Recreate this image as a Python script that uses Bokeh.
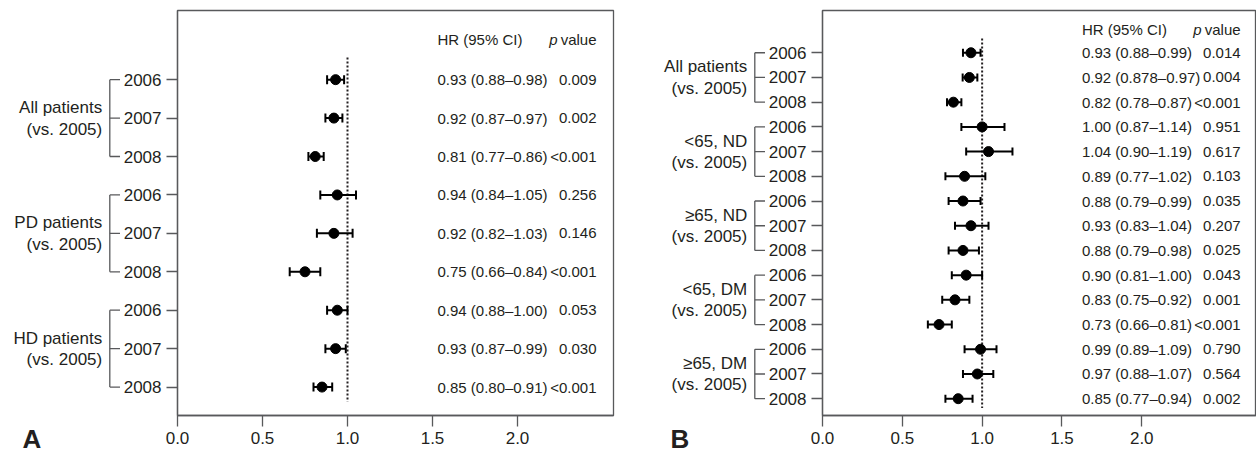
import numpy as np
from bokeh.plotting import figure
from bokeh.layouts import row
from bokeh.models import Range1d, FixedTicker, PrintfTickFormatter, Label
from bokeh.core.properties import value
from bokeh.embed import file_html
from bokeh.resources import INLINE

# ---------------- data ----------------
years = ["2006", "2007", "2008"]
comparison = "(vs. 2005)"
x_ticks = [0.0, 0.5, 1.0, 1.5, 2.0]
ref_hr = 1.0

a_groups = ["All patients", "PD patients", "HD patients"]
a_hr = [0.93, 0.92, 0.81, 0.94, 0.92, 0.75, 0.94, 0.93, 0.85]
a_lo = [0.88, 0.87, 0.77, 0.84, 0.82, 0.66, 0.88, 0.87, 0.80]
a_hi = [0.98, 0.97, 0.86, 1.05, 1.03, 0.84, 1.00, 0.99, 0.91]
a_ci = ["0.93 (0.88\u20130.98)", "0.92 (0.87\u20130.97)", "0.81 (0.77\u20130.86)",
        "0.94 (0.84\u20131.05)", "0.92 (0.82\u20131.03)", "0.75 (0.66\u20130.84)",
        "0.94 (0.88\u20131.00)", "0.93 (0.87\u20130.99)", "0.85 (0.80\u20130.91)"]
a_p = ["0.009", "0.002", "<0.001", "0.256", "0.146", "<0.001", "0.053", "0.030", "<0.001"]

b_groups = ["All patients", "<65, ND", "\u226565, ND", "<65, DM", "\u226565, DM"]
b_hr = [0.93, 0.92, 0.82, 1.00, 1.04, 0.89, 0.88, 0.93, 0.88, 0.90, 0.83, 0.73, 0.99, 0.97, 0.85]
b_lo = [0.88, 0.878, 0.78, 0.87, 0.90, 0.77, 0.79, 0.83, 0.79, 0.81, 0.75, 0.66, 0.89, 0.88, 0.77]
b_hi = [0.99, 0.97, 0.87, 1.14, 1.19, 1.02, 0.99, 1.04, 0.98, 1.00, 0.92, 0.81, 1.09, 1.07, 0.94]
b_ci = ["0.93 (0.88\u20130.99)", "0.92 (0.878\u20130.97)", "0.82 (0.78\u20130.87)",
        "1.00 (0.87\u20131.14)", "1.04 (0.90\u20131.19)", "0.89 (0.77\u20131.02)",
        "0.88 (0.79\u20130.99)", "0.93 (0.83\u20131.04)", "0.88 (0.79\u20130.98)",
        "0.90 (0.81\u20131.00)", "0.83 (0.75\u20130.92)", "0.73 (0.66\u20130.81)",
        "0.99 (0.89\u20131.09)", "0.97 (0.88\u20131.07)", "0.85 (0.77\u20130.94)"]
b_p = ["0.014", "0.004", "<0.001", "0.951", "0.617", "0.103", "0.035", "0.207", "0.025",
       "0.043", "0.001", "<0.001", "0.790", "0.564", "0.002"]

# ---------------- style ----------------
FONT = "Liberation Sans"
FS_LAB = "17px"   # axis / group labels
FS_TAB = "15px"   # HR (95% CI) and p value columns
TXT = "#231f20"
LINE = "#58595b"
H = 456
TOP, BOTTOM = 10, 41


def panel(groups, hr, lo, hi, ci, pv, letter, lab_w, lab_right, bracket_x, letter_x,
          main_w, mbl, mbr, px_per_unit, y_top, y_bottom, header_row, ci_x, p_x,
          cap, dot):
    n = len(hr)
    rows = list(range(n))
    frame_w = main_w - mbl - mbr
    yr = Range1d(y_bottom, y_top)
    p = figure(width=main_w, height=H, x_range=Range1d(0, frame_w / px_per_unit),
               y_range=yr, output_backend="svg",
               toolbar_location=None, min_border_left=mbl, min_border_right=mbr,
               min_border_top=TOP, min_border_bottom=BOTTOM)
    p.grid.visible = False
    p.outline_line_color = LINE
    p.outline_line_width = 1.3
    for ax in (p.xaxis[0], p.yaxis[0]):
        ax.axis_line_color = LINE
        ax.axis_line_width = 1.3
        ax.major_tick_line_color = LINE
        ax.major_tick_line_width = 1.3
        ax.major_tick_in = 0
        ax.major_tick_out = 11
        ax.minor_tick_line_color = None
        ax.major_label_text_font = FONT
        ax.major_label_text_font_size = FS_LAB
        ax.major_label_text_color = TXT
    p.xaxis[0].ticker = FixedTicker(ticks=x_ticks)
    p.xaxis[0].formatter = PrintfTickFormatter(format="%.1f")
    p.xaxis[0].major_label_standoff = 5
    p.yaxis[0].ticker = FixedTicker(ticks=rows)
    year_labels = years * len(groups)
    p.yaxis[0].major_label_overrides = {i: year_labels[i] for i in rows}
    p.yaxis[0].major_label_standoff = 5

    p.segment(x0=[ref_hr], y0=[-0.58], x1=[ref_hr], y1=[n - 1 + 0.38],
              line_dash="2 2", line_width=2, line_color=TXT)
    p.segment(x0=lo, y0=rows, x1=hi, y1=rows, line_width=2, line_color="black")
    p.scatter(x=lo + hi, y=rows + rows, marker="dash", angle=np.pi / 2, size=cap,
              line_width=2, line_color="black")
    p.scatter(x=hr, y=rows, size=dot, fill_color="black", line_color="black")

    tk = dict(text_font=value(FONT), text_font_size=FS_TAB, text_color=TXT,
              text_baseline="middle")
    p.text(x=[ci_x] * n, y=rows, text=ci, text_align="left", **tk)
    p.text(x=[p_x] * n, y=rows, text=pv, text_align="right", **tk)
    p.text(x=[ci_x], y=[header_row], text=["HR (95% CI)"], text_align="left", **tk)
    p.text(x=[p_x], y=[header_row], text=["value"], text_align="right", **tk)
    p.text(x=[p_x], y=[header_row], text=["p"], text_align="right", x_offset=-39,
           text_font_style="italic", **tk)

    # label figure (group names + brackets); its frame is aligned with the main frame
    lf = figure(width=lab_w, height=H, x_range=Range1d(0, lab_w), y_range=yr,
                x_axis_location=None, y_axis_location=None, output_backend="svg",
                toolbar_location=None, min_border_left=0, min_border_right=0,
                min_border_top=TOP, min_border_bottom=BOTTOM)
    lf.grid.visible = False
    lf.outline_line_color = None
    lk = dict(text_font=value(FONT), text_font_size=FS_LAB, text_color=TXT,
              text_baseline="middle", text_align="right")
    for g, name in enumerate(groups):
        r0, r1 = 3 * g, 3 * g + 2
        lf.segment(x0=[bracket_x], y0=[r0], x1=[bracket_x], y1=[r1],
                   line_color=LINE, line_width=1.3)
        lf.segment(x0=[bracket_x] * 3, y0=[r0, r0 + 1, r1], x1=[lab_w] * 3,
                   y1=[r0, r0 + 1, r1], line_color=LINE, line_width=1.3)
        lf.text(x=[lab_right], y=[r0 + 1], text=[name], y_offset=-10.5, **lk)
        lf.text(x=[lab_right], y=[r0 + 1], text=[comparison], y_offset=11, **lk)
    # panel letter lives in the bottom side panel so it is not clipped by the frame
    lf.add_layout(Label(x=letter_x, y=6.5, x_units="screen", y_units="screen",
                        text=letter, text_font=FONT, text_font_size="26px",
                        text_font_style="bold", text_color=TXT,
                        text_baseline="alphabetic", text_align="left"), "below")
    return lf, p


la, pa = panel(a_groups, a_hr, a_lo, a_hi, a_ci, a_p, "A", lab_w=120, lab_right=101.7,
               bracket_x=109.3, letter_x=22, main_w=500, mbl=57, mbr=7,
               px_per_unit=170, y_top=-1.80, y_bottom=8.74, header_row=-1.04,
               ci_x=1.529, p_x=2.465, cap=9, dot=10)
lb, pb = panel(b_groups, b_hr, b_lo, b_hi, b_ci, b_p, "B", lab_w=145, lab_right=126.7,
               bracket_x=134.3, letter_x=50, main_w=491, mbl=56, mbr=0,
               px_per_unit=160, y_top=-1.71, y_bottom=14.68, header_row=-0.93,
               ci_x=1.625, p_x=2.619, cap=8, dot=10)

layout = row(la, pa, lb, pb, spacing=0)
open("out.html", "w").write(file_html(layout, INLINE))
